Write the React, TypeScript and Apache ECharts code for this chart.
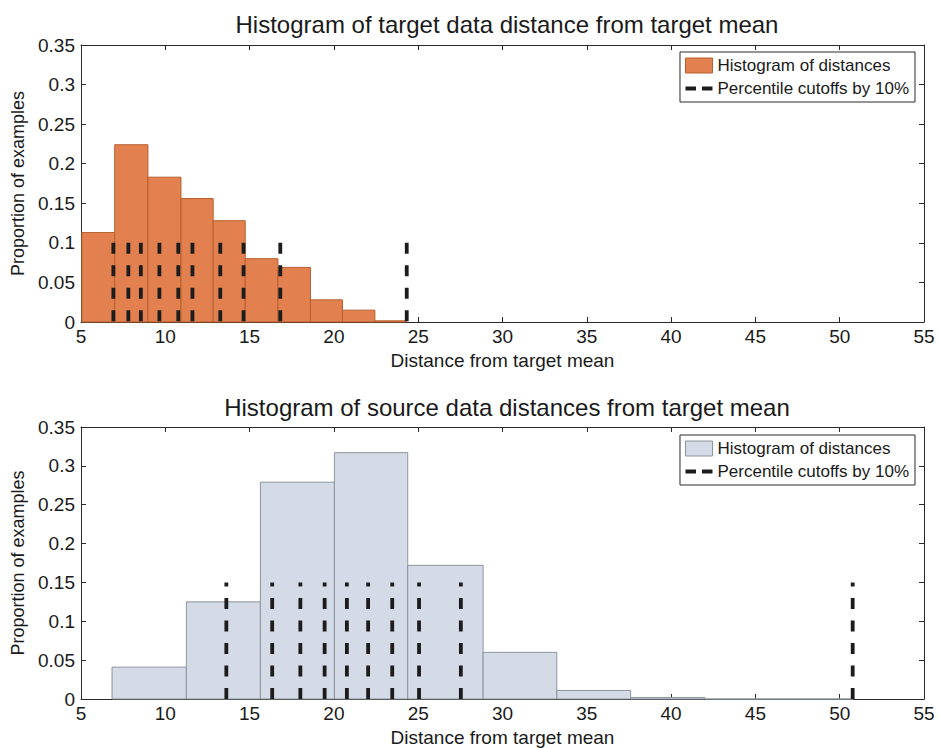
import React, { useEffect, useRef } from "react";
import * as echarts from "echarts";

// ---- Data ----
const targetBinEdges = [5.05, 7.0, 8.97, 10.93, 12.84, 14.74, 16.68, 18.61, 20.51, 22.43, 24.3];
const targetProportions = [0.113, 0.224, 0.183, 0.156, 0.128, 0.08, 0.069, 0.028, 0.015, 0.0015];
const targetCutoffs = [6.92, 7.81, 8.55, 9.65, 10.77, 11.61, 13.26, 14.64, 16.82, 24.32];
const targetCutoffHeight = 0.1;

const sourceBinEdges = [6.84, 11.25, 15.64, 20.03, 24.38, 28.85, 33.22, 37.6, 42.0, 46.4, 50.8];
const sourceProportions = [0.041, 0.125, 0.279, 0.317, 0.172, 0.06, 0.011, 0.002, 0, 0];
const sourceCutoffs = [13.62, 16.34, 18.01, 19.45, 20.77, 22.03, 23.46, 25.05, 27.53, 50.77];
const sourceCutoffHeight = 0.15;

const xTicks = [5, 10, 15, 20, 25, 30, 35, 40, 45, 50, 55];
const yTicks = [0, 0.05, 0.1, 0.15, 0.2, 0.25, 0.3, 0.35];

const titles = [
  "Histogram of target data distance from target mean",
  "Histogram of source data distances from target mean",
];
const xAxisName = "Distance from target mean";
const yAxisName = "Proportion of examples";
const histName = "Histogram of distances";
const cutoffName = "Percentile cutoffs by 10%";

const FONT = "'Liberation Sans', Arial, Helvetica, sans-serif";
const TEXT_COLOR = "#1a1a1a";
const AXIS_COLOR = "#2a2a2a";
const DASH_COLOR = "#1c1c1c";

const palettes = [
  { fill: "#e2804f", stroke: "#b8602f" },
  { fill: "#d4dae6", stroke: "#8e949e" },
];

export default function App() {
  const ref = useRef<HTMLDivElement>(null);

  useEffect(() => {
    if (!ref.current) return;
    const chart = echarts.init(ref.current, undefined, { renderer: "svg" });

    const grids = [
      { left: 81, right: 14, top: 45, height: 277 },
      { left: 81, right: 14, top: 427, height: 274 },
    ];

    const xAxes: any[] = [];
    const yAxes: any[] = [];
    [0, 1].forEach((g) => {
      const baseX = {
        type: "value",
        gridIndex: g,
        min: xTicks[0],
        max: xTicks[xTicks.length - 1],
        interval: xTicks[1] - xTicks[0],
        splitLine: { show: false },
        axisLine: { show: true, onZero: false, lineStyle: { color: AXIS_COLOR, width: 1 } },
        axisTick: { show: true, inside: true, length: 5, lineStyle: { color: AXIS_COLOR } },
      };
      xAxes.push({
        ...baseX,
        position: "bottom",
        name: xAxisName,
        nameLocation: "middle",
        nameGap: 29,
        nameTextStyle: { fontFamily: FONT, fontSize: 19, color: TEXT_COLOR },
        axisLabel: { show: true, margin: 5, fontFamily: FONT, fontSize: 19, color: TEXT_COLOR },
      });
      xAxes.push({ ...baseX, position: "top", axisLabel: { show: false } });

      const baseY = {
        type: "value",
        gridIndex: g,
        min: yTicks[0],
        max: yTicks[yTicks.length - 1],
        interval: yTicks[1] - yTicks[0],
        splitLine: { show: false },
        axisLine: { show: true, onZero: false, lineStyle: { color: AXIS_COLOR, width: 1 } },
        axisTick: { show: true, inside: true, length: 5, lineStyle: { color: AXIS_COLOR } },
      };
      yAxes.push({
        ...baseY,
        position: "left",
        name: yAxisName,
        nameLocation: "middle",
        nameGap: 52,
        nameRotate: 90,
        nameTextStyle: { fontFamily: FONT, fontSize: 18, color: TEXT_COLOR },
        axisLabel: {
          show: true,
          margin: 6,
          fontFamily: FONT,
          fontSize: 19,
          color: TEXT_COLOR,
          formatter: (v: number) => String(+v.toFixed(2)),
        },
      });
      yAxes.push({ ...baseY, position: "right", axisLabel: { show: false } });
    });

    const datasets = [
      { edges: targetBinEdges, props: targetProportions, cutoffs: targetCutoffs, h: targetCutoffHeight, tag: "target", fromTop: true },
      { edges: sourceBinEdges, props: sourceProportions, cutoffs: sourceCutoffs, h: sourceCutoffHeight, tag: "source", fromTop: false },
    ];

    const series: any[] = [];
    datasets.forEach((d, g) => {
      const pal = palettes[g];
      const rows = d.props.map((p, i) => [d.edges[i], d.edges[i + 1], p]);
      series.push({
        type: "custom",
        name: `${histName} (${d.tag})`,
        xAxisIndex: g * 2,
        yAxisIndex: g * 2,
        data: rows,
        encode: { x: [0, 1], y: 2 },
        itemStyle: { color: pal.fill, borderColor: pal.stroke, borderWidth: 1 },
        renderItem: (params: any, api: any) => {
          const x0 = api.value(0);
          const x1 = api.value(1);
          const y = api.value(2);
          const p0 = api.coord([x0, y]);
          const p1 = api.coord([x1, 0]);
          return {
            type: "rect",
            shape: { x: p0[0], y: p0[1], width: p1[0] - p0[0], height: p1[1] - p0[1] },
            style: { fill: pal.fill, stroke: pal.stroke, lineWidth: 1 },
          };
        },
        z: 1,
      });
      d.cutoffs.forEach((c) => {
        series.push({
          type: "line",
          name: `${cutoffName} (${d.tag})`,
          xAxisIndex: g * 2,
          yAxisIndex: g * 2,
          data: d.fromTop ? [[c, d.h], [c, 0]] : [[c, 0], [c, d.h]],
          showSymbol: false,
          symbol: "none",
          lineStyle: { color: DASH_COLOR, width: 3.8, type: [11, 11.5], cap: "butt" },
          itemStyle: { color: DASH_COLOR },
          z: 3,
          silent: true,
        });
      });
    });

    const legendBase = (g: number, top: number) => ({
      orient: "vertical",
      right: 23,
      top,
      backgroundColor: "#ffffff",
      borderColor: AXIS_COLOR,
      borderWidth: 1,
      borderRadius: 0,
      padding: [5, 6, 5, 5],
      itemGap: 6,
      itemWidth: 27,
      itemHeight: 15,
      selectedMode: false,
      symbolKeepAspect: true,
      textStyle: { fontFamily: FONT, fontSize: 17, color: TEXT_COLOR, padding: [0, 0, 0, 0] },
      formatter: (name: string) => name.replace(/ \((target|source)\)$/, ""),
      data: [
        {
          name: `${histName} (${datasets[g].tag})`,
          icon: "rect",
          itemStyle: { color: palettes[g].fill, borderColor: palettes[g].stroke, borderWidth: 1 },
        },
        {
          name: `${cutoffName} (${datasets[g].tag})`,
          icon: "path://M0,0H10.5V4H0Z M16.5,0H27V4H16.5Z",
          itemStyle: { color: DASH_COLOR, borderWidth: 0 },
        },
      ],
    });

    chart.setOption({
      animation: false,
      backgroundColor: "#ffffff",
      title: [
        {
          text: titles[0],
          left: 502,
          top: 7,
          textAlign: "center",
          textStyle: { fontFamily: FONT, fontSize: 24, fontWeight: "normal", color: TEXT_COLOR },
        },
        {
          text: titles[1],
          left: 502,
          top: 390,
          textAlign: "center",
          textStyle: { fontFamily: FONT, fontSize: 24, fontWeight: "normal", color: TEXT_COLOR },
        },
      ],
      legend: [legendBase(0, 52), legendBase(1, 435)],
      grid: grids,
      xAxis: xAxes,
      yAxis: yAxes,
      series,
    });

    return () => chart.dispose();
  }, []);

  return (
    <div
      ref={ref}
      style={{ position: "absolute", left: 0, top: 0, width: 938, height: 748 }}
    />
  );
}
